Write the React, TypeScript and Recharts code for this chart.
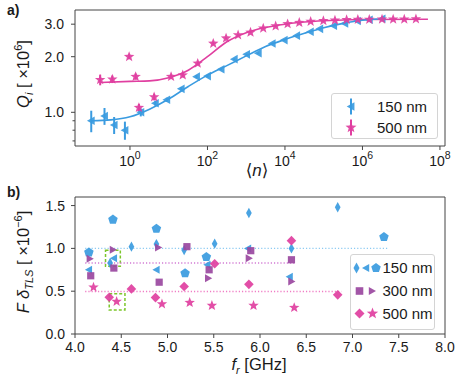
import {
  ComposedChart, Scatter, Line, XAxis, YAxis, ErrorBar,
  ReferenceArea, ReferenceLine, Legend,
} from 'recharts';

const FONT = '"Liberation Sans", Arial, Helvetica, "DejaVu Sans", sans-serif';
const INK = '#1a1a1a';
const FRAME = '#444';
const BLUE = '#3a9be0';
const PINK = '#e03fa0';
const PURPLE = '#9a48a0';

// ---- a) Qi vs <n> ----
const n150 = [0.10, 0.22, 0.39, 0.74, 1.9, 4.5, 8.9, 21, 52, 100, 224, 490, 1020, 2040, 4680, 9550, 2.0e4, 4.5e4, 7.9e4, 1.8e5, 3.5e5, 7.4e5, 1.5e6, 3.2e6];
const q150 = [0.90, 0.955, 0.853, 0.80, 1.0, 1.12, 1.17, 1.34, 1.56, 1.57, 1.71, 1.94, 2.06, 2.09, 2.36, 2.46, 2.60, 2.73, 2.83, 2.94, 3.03, 3.12, 3.17, 3.21];
const err150 = [0.12, 0.10, 0.09, 0.09, 0.05, 0.035, 0.03, 0.03, 0.03, 0.025, 0.02, 0.02, 0.02, 0.02, 0.02, 0.02, 0.02, 0.02, 0.02, 0.02, 0.02, 0.02, 0.02, 0.02];

const n500 = [0.17, 0.35, 0.95, 1.4, 1.7, 4.2, 11.5, 23, 56, 141, 302, 617, 1290, 2750, 5750, 1.17e4, 2.34e4, 4.6e4, 9.8e4, 1.95e5, 3.9e5, 7.6e5, 1.5e6, 3.2e6, 6.2e6, 1.2e7, 2.4e7];
const q500 = [1.50, 1.51, 2.0, 1.56, 1.06, 1.21, 1.56, 1.59, 1.84, 2.36, 2.52, 2.62, 2.71, 2.85, 2.93, 3.01, 3.06, 3.10, 3.13, 3.15, 3.17, 3.18, 3.18, 3.19, 3.19, 3.19, 3.20];
const err500 = [0.10, 0.07, 0.06, 0.06, 0.05, 0.05, 0.04, 0.04, 0.04, 0.04, 0.03, 0.03, 0.03, 0.03, 0.03, 0.03, 0.03, 0.03, 0.03, 0.03, 0.03, 0.03, 0.03, 0.03, 0.03, 0.03, 0.03];

const fitN150 = [0.10, 0.32, 1, 3.2, 10, 32, 100, 316, 1000, 3160, 1e4, 3.2e4, 1e5, 3.2e5, 1e6, 2.5e6];
const fitQ150 = [0.90, 0.91, 0.946, 1.04, 1.18, 1.38, 1.59, 1.79, 2.02, 2.27, 2.48, 2.68, 2.87, 3.03, 3.15, 3.20];
const fitN500 = [0.17, 1, 3.2, 10, 32, 100, 316, 1000, 3160, 1e4, 3.2e4, 1e5, 1e6, 4.9e7];
const fitQ500 = [1.45, 1.47, 1.48, 1.54, 1.69, 2.0, 2.41, 2.70, 2.88, 3.00, 3.08, 3.13, 3.18, 3.19];

const nDomain = [0.0381, 1.35e8];
const qDomain = [0.657, 3.58];
const nTicks = [1, 1e2, 1e4, 1e6, 1e8];
const qTicks = [0.7, 0.8, 0.9, 1, 2, 3];
const qMajor = [1, 2, 3];

// ---- b) F delta_TLS vs f_r ----
const fBlueThin = [4.38, 4.61, 4.88, 5.18, 5.51, 5.88, 6.34, 6.84];
const vBlueThin = [0.83, 1.02, 1.05, 0.98, 1.055, 1.414, 1.00, 1.48];
const fBlueTri = [4.15, 4.42, 4.88, 5.43, 5.87, 6.32];
const vBlueTri = [0.75, 0.885, 0.75, 0.81, 1.00, 0.67];
const fBluePent = [4.15, 4.41, 4.88, 5.19, 5.42, 7.34];
const vBluePent = [0.953, 1.336, 1.23, 0.71, 0.90, 1.133];
const fPurpSq = [4.17, 4.42, 4.91, 5.21, 5.45, 5.90, 6.34];
const vPurpSq = [0.68, 0.77, 0.605, 1.02, 0.75, 0.973, 0.867];
const fPurpTri = [4.16, 4.41, 4.90, 5.44, 5.88, 6.34];
const vPurpTri = [0.88, 0.985, 1.01, 0.652, 0.886, 0.613];
const fPinkDia = [4.37, 4.61, 4.87, 5.18, 5.51, 5.88, 6.34, 6.84];
const vPinkDia = [0.43, 0.527, 0.425, 0.555, 0.82, 0.58, 1.09, 0.457];
const fPinkStar = [4.20, 4.45, 4.94, 5.24, 5.48, 5.93, 6.37];
const vPinkStar = [0.546, 0.379, 0.35, 0.367, 0.332, 0.332, 0.308];

// mean levels (dotted) per thickness
const meanLevel = [1.0, 0.83, 0.496];
const meanStart = 4.11;
const meanEnd = [7.39, 6.38, 6.88];
const meanColor = ['#8ccaf2', '#d27ad4', '#f07cc4'];

// highlighted resonator (green boxes)
const boxF = [[4.33, 4.49], [4.37, 4.54]];
const boxV = [[0.79, 0.977], [0.281, 0.469]];

const fDomain = [4, 8];
const vDomain = [0, 1.6];
const fTicks = [4, 4.5, 5, 5.5, 6, 6.5, 7, 7.5, 8];
const vTicks = [0, 0.5, 1, 1.5];

const zip = (xs: number[], ys: number[], xk: string, yk: string, es?: number[]) =>
  xs.map((x, i) => ({ [xk]: x, [yk]: ys[i], e: es ? es[i] : 0 }));

type Kind = 'triL' | 'triR' | 'star' | 'pent' | 'thin' | 'dia' | 'sq';

function markerPath(kind: Kind, cx: number, cy: number, s: number): string {
  const poly = (pts: number[][]) =>
    'M' + pts.map(([x, y]) => `${(cx + x).toFixed(2)},${(cy + y).toFixed(2)}`).join('L') + 'Z';
  const radial = (n: number, inner: number) => {
    const pts: number[][] = [];
    const count = inner ? n * 2 : n;
    for (let i = 0; i < count; i++) {
      const r = inner && i % 2 ? s * inner : s;
      const a = -Math.PI / 2 + (i * 2 * Math.PI) / count;
      pts.push([r * Math.cos(a), r * Math.sin(a)]);
    }
    return poly(pts);
  };
  switch (kind) {
    case 'triL': return poly([[-s, 0], [s * 0.8, -s], [s * 0.8, s]]);
    case 'triR': return poly([[s, 0], [-s * 0.8, -s], [-s * 0.8, s]]);
    case 'sq': return poly([[-s, -s], [s, -s], [s, s], [-s, s]]);
    case 'dia': return poly([[0, -s], [s, 0], [0, s], [-s, 0]]);
    case 'thin': return poly([[0, -s], [s * 0.55, 0], [0, s], [-s * 0.55, 0]]);
    case 'pent': return radial(5, 0);
    case 'star': return radial(5, 0.42);
  }
  return '';
}

const dot = (kind: Kind, s: number, color: string) => (p: any) => (
  <path d={markerPath(kind, p.cx, p.cy, s)} fill={color} fillOpacity={0.92} />
);

const Icon = ({ kind, s, color, x, y, bar }: { kind: Kind; s: number; color: string; x: number; y: number; bar?: boolean }) => (
  <g>
    {bar && <line x1={x} x2={x} y1={y - 8} y2={y + 8} stroke={color} strokeWidth={2} />}
    <path d={markerPath(kind, x, y, s)} fill={color} fillOpacity={0.92} />
  </g>
);

const textStyle = { fontFamily: FONT, fill: INK } as const;

const XTickA = ({ x, y, payload }: any) => {
  const exp = Math.round(Math.log10(payload.value));
  return (
    <g>
      <line x1={x} x2={x} y1={y} y2={y + 4} stroke={FRAME} />
      <text x={x} y={y + 20} textAnchor="middle" fontSize={14} {...textStyle}>
        10<tspan dy={-7} fontSize={10.5}>{exp}</tspan>
      </text>
    </g>
  );
};

const YTickA = ({ x, y, payload }: any) => {
  const major = qMajor.includes(payload.value);
  return (
    <g>
      <line x1={x} x2={x - (major ? 4 : 2.5)} y1={y} y2={y} stroke={FRAME} />
      {major && (
        <text x={x - 11} y={y + 5} textAnchor="end" fontSize={14} {...textStyle}>
          {payload.value.toFixed(1)}
        </text>
      )}
    </g>
  );
};

const XTickB = ({ x, y, payload }: any) => (
  <g>
    <line x1={x} x2={x} y1={y} y2={y + 4} stroke={FRAME} />
    <text x={x} y={y + 18} textAnchor="middle" fontSize={14} {...textStyle}>
      {payload.value.toFixed(1)}
    </text>
  </g>
);

const YTickB = ({ x, y, payload }: any) => (
  <g>
    <line x1={x} x2={x - 4} y1={y} y2={y} stroke={FRAME} />
    <text x={x - 10} y={y + 5} textAnchor="end" fontSize={14} {...textStyle}>
      {payload.value.toFixed(1)}
    </text>
  </g>
);

const LabelA = () => (
  <g>
    <text x={7} y={15} fontSize={14} fontWeight="bold" {...textStyle}>a)</text>
    <text transform="translate(29,74) rotate(-90)" textAnchor="middle" fontSize={16.5} {...textStyle}>
      <tspan fontStyle="italic">Q</tspan>
      <tspan fontStyle="italic" fontSize={11} dy={4}>i</tspan>
      <tspan dy={-4}> [ ×10</tspan>
      <tspan fontSize={11} dy={-7}>6</tspan>
      <tspan dy={7}>]</tspan>
    </text>
  </g>
);

const XLabelA = () => (
  <text x={257} y={176} textAnchor="middle" fontSize={17} {...textStyle}>
    ⟨<tspan fontStyle="italic">n</tspan>⟩
  </text>
);

const LabelB = () => (
  <g>
    <text x={7} y={14} fontSize={14} fontWeight="bold" {...textStyle}>b)</text>
    <text transform="translate(29,79) rotate(-90)" textAnchor="middle" fontSize={16.5} {...textStyle}>
      <tspan fontStyle="italic">F δ</tspan>
      <tspan fontStyle="italic" fontSize={11} dy={4}>TLS</tspan>
      <tspan dy={-4}> [ ×10</tspan>
      <tspan fontSize={11} dy={-7}>−6</tspan>
      <tspan dy={7}>]</tspan>
    </text>
  </g>
);

const XLabelB = () => (
  <text x={259} y={187} textAnchor="middle" fontSize={16.5} {...textStyle}>
    <tspan fontStyle="italic">f</tspan>
    <tspan fontStyle="italic" fontSize={11} dy={4}>r</tspan>
    <tspan dy={-4}> [GHz]</tspan>
  </text>
);

const legendBox = {
  position: 'relative' as const,
  border: '1px solid #d4d4d4',
  borderRadius: 3,
  background: 'rgba(255,255,255,0.85)',
  boxSizing: 'border-box' as const,
};

const LegendA = () => (
  <div style={{ ...legendBox, width: 107, height: 46 }}>
    <svg width={107} height={46} style={{ position: 'absolute', left: 0, top: 0 }}>
      <Icon kind="triL" s={4.3} color={BLUE} x={19} y={12.5} bar />
      <Icon kind="star" s={5.8} color={PINK} x={19} y={33.5} bar />
      <text x={45} y={17.5} fontSize={15} {...textStyle}>150 nm</text>
      <text x={45} y={38.5} fontSize={15} {...textStyle}>500 nm</text>
    </svg>
  </div>
);

const LegendB = () => (
  <div style={{ ...legendBox, width: 85, height: 76 }}>
    <svg width={85} height={76} style={{ position: 'absolute', left: 0, top: 0 }}>
      <Icon kind="thin" s={5.5} color={BLUE} x={5.5} y={13} />
      <Icon kind="triL" s={4} color={BLUE} x={15} y={13} />
      <Icon kind="pent" s={5} color={BLUE} x={25} y={13} />
      <Icon kind="sq" s={3.8} color={PURPLE} x={8.5} y={36} />
      <Icon kind="triR" s={4} color={PURPLE} x={21} y={36} />
      <Icon kind="dia" s={5} color={PINK} x={8.5} y={58.5} />
      <Icon kind="star" s={6} color={PINK} x={21.5} y={58.5} />
      <text x={31.5} y={18} fontSize={15} {...textStyle}>150 nm</text>
      <text x={31.5} y={41} fontSize={15} {...textStyle}>300 nm</text>
      <text x={31.5} y={63.5} fontSize={15} {...textStyle}>500 nm</text>
    </svg>
  </div>
);

function PanelA() {
  const pts150 = zip(n150, q150, 'n', 'q', err150);
  const pts500 = zip(n500, q500, 'n', 'q', err500);
  const fit150 = zip(fitN150, fitQ150, 'n', 'q');
  const fit500 = zip(fitN500, fitQ500, 'n', 'q');

  return (
    <ComposedChart width={463} height={183} margin={{ top: 10, right: 18, bottom: 7, left: 0 }}>
      <XAxis
        type="number" dataKey="n" scale="log" domain={nDomain} allowDataOverflow
        ticks={nTicks} interval={0} axisLine={false} tickLine={false}
        tickSize={0} tickMargin={0} height={30} tick={<XTickA />} label={<XLabelA />}
      />
      <YAxis
        type="number" scale="log" domain={qDomain} allowDataOverflow
        ticks={qTicks} interval={0} axisLine={false} tickLine={false}
        tickSize={0} tickMargin={0} width={75} tick={<YTickA />} label={<LabelA />}
      />
      <ReferenceArea
        x1={nDomain[0]} x2={nDomain[1]} y1={qDomain[0]} y2={qDomain[1]}
        fill="none" stroke={FRAME} strokeWidth={1} ifOverflow="visible"
      />
      <Line data={fit500} dataKey="q" type="monotone" stroke={PINK} strokeWidth={1.6}
        dot={false} activeDot={false} isAnimationActive={false} legendType="none" />
      <Line data={fit150} dataKey="q" type="monotone" stroke={BLUE} strokeWidth={1.6}
        dot={false} activeDot={false} isAnimationActive={false} legendType="none" />
      <Scatter data={pts150} dataKey="q" shape={dot('triL', 4.3, BLUE)} isAnimationActive={false}>
        <ErrorBar dataKey="e" direction="y" width={0} stroke={BLUE} strokeWidth={2} />
      </Scatter>
      <Scatter data={pts500} dataKey="q" shape={dot('star', 5.5, PINK)} isAnimationActive={false}>
        <ErrorBar dataKey="e" direction="y" width={0} stroke={PINK} strokeWidth={2} />
      </Scatter>
      <Legend
        layout="horizontal" verticalAlign="middle" align="center"
        wrapperStyle={{ position: 'absolute', left: 331, top: 93, width: 'auto', height: 'auto' }}
        content={() => <LegendA />}
      />
    </ComposedChart>
  );
}

function PanelB() {
  const series: { f: number[]; v: number[]; kind: Kind; s: number; color: string }[] = [
    { f: fBluePent, v: vBluePent, kind: 'pent', s: 5, color: BLUE },
    { f: fBlueThin, v: vBlueThin, kind: 'thin', s: 5.2, color: BLUE },
    { f: fBlueTri, v: vBlueTri, kind: 'triL', s: 4, color: BLUE },
    { f: fPurpSq, v: vPurpSq, kind: 'sq', s: 3.6, color: PURPLE },
    { f: fPurpTri, v: vPurpTri, kind: 'triR', s: 4, color: PURPLE },
    { f: fPinkDia, v: vPinkDia, kind: 'dia', s: 4.8, color: PINK },
    { f: fPinkStar, v: vPinkStar, kind: 'star', s: 5.5, color: PINK },
  ];

  return (
    <ComposedChart width={463} height={198} margin={{ top: 14, right: 18, bottom: 17, left: 0 }}>
      <XAxis
        type="number" dataKey="f" domain={fDomain} allowDataOverflow
        ticks={fTicks} interval={0} axisLine={false} tickLine={false}
        tickSize={0} tickMargin={0} height={30} tick={<XTickB />} label={<XLabelB />}
      />
      <YAxis
        type="number" domain={vDomain} allowDataOverflow
        ticks={vTicks} interval={0} axisLine={false} tickLine={false}
        tickSize={0} tickMargin={0} width={75} tick={<YTickB />} label={<LabelB />}
      />
      <ReferenceArea
        x1={fDomain[0]} x2={fDomain[1]} y1={vDomain[0]} y2={vDomain[1]}
        fill="none" stroke={FRAME} strokeWidth={1} ifOverflow="visible"
      />
      {meanLevel.map((lv, i) => (
        <ReferenceLine
          key={'m' + i}
          segment={[{ x: meanStart, y: lv }, { x: meanEnd[i], y: lv }]}
          stroke={meanColor[i]} strokeWidth={1.4} strokeDasharray="1.2 2"
        />
      ))}
      {series.map((sr, i) => (
        <Scatter
          key={'s' + i}
          data={zip(sr.f, sr.v, 'f', 'v')}
          dataKey="v"
          shape={dot(sr.kind, sr.s, sr.color)}
          isAnimationActive={false}
        />
      ))}
      {boxF.map((bf, i) => (
        <ReferenceArea
          key={'b' + i}
          x1={bf[0]} x2={bf[1]} y1={boxV[i][0]} y2={boxV[i][1]}
          fill="none" stroke="#7cc62a" strokeWidth={1.5} strokeDasharray="3 2"
          ifOverflow="visible"
        />
      ))}
      <Legend
        layout="horizontal" verticalAlign="middle" align="center"
        wrapperStyle={{ position: 'absolute', left: 350, top: 71, width: 'auto', height: 'auto' }}
        content={() => <LegendB />}
      />
    </ComposedChart>
  );
}

export default function App() {
  return (
    <div style={{ position: 'absolute', left: 0, top: 0, width: 463, height: 381, background: '#fff' }}>
      <div style={{ position: 'absolute', left: 0, top: 0 }}>
        <PanelA />
      </div>
      <div style={{ position: 'absolute', left: 0, top: 183 }}>
        <PanelB />
      </div>
    </div>
  );
}
